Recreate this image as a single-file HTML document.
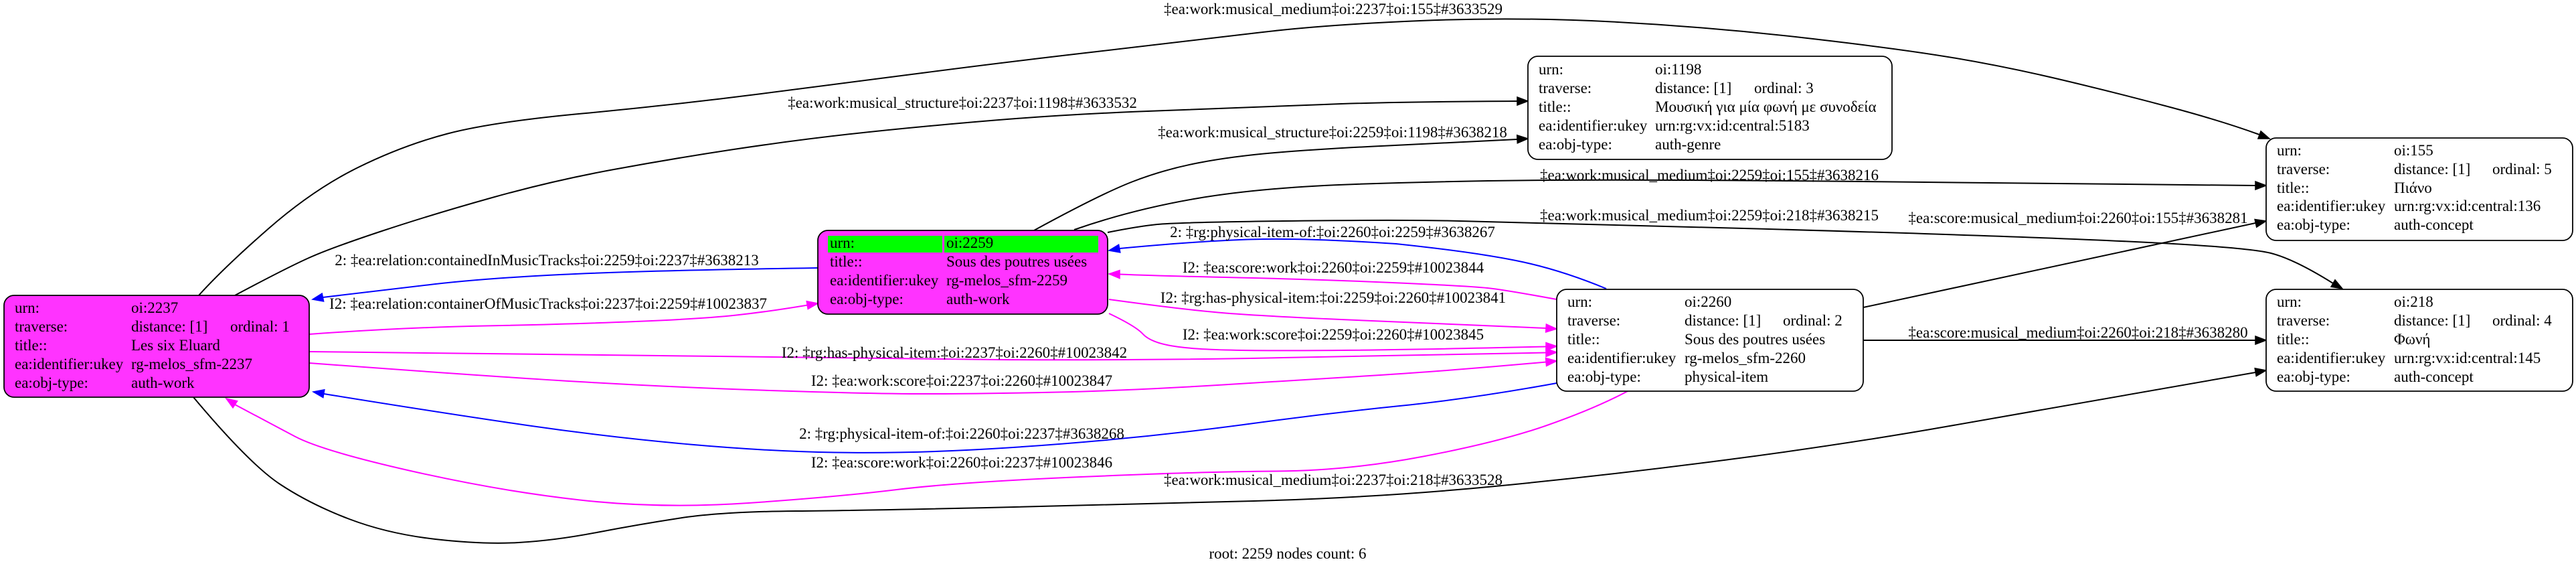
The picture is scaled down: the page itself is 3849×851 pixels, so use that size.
<!DOCTYPE html>
<html><head><meta charset="utf-8"><style>
html,body{margin:0;padding:0;background:#fff;}
svg{display:block;}
text{font-family:"Liberation Serif","DejaVu Serif",serif;font-size:23px;fill:#000;}
</style></head><body>
<svg width="3849" height="851" viewBox="0 0 3849 851" xmlns="http://www.w3.org/2000/svg">
<rect x="0" y="0" width="3849" height="851" fill="#fff"/>

<!-- ===== EDGES ===== -->
<g fill="none" stroke-width="2">
<!-- E1 2237 -> 155 -->
<path stroke="#000" d="M297,441 Q334,400 401,341.5 Q468,283 535,250 Q602,217 669,199.5 Q736,182 870,169.5 Q1004,157 1137.5,140 Q1271,123 1385.5,108 Q1500,93 1643.5,76.5 Q1787,60 1882.5,48.5 Q1978,37 2121.5,31 Q2265,25 2408.5,32.5 Q2552,40 2696,56.5 Q2840,73 2920,86.5 Q3000,100 3084,120 Q3168,140 3244.5,160.5 Q3321,181 3376,201"/>
<!-- E2 2237 -> 1198 -->
<path stroke="#000" d="M351,441 Q428,400 461.5,385 Q495,370 570.5,345 Q646,320 735.5,295 Q825,270 914.5,253.5 Q1004,237 1093,223.5 Q1182,210 1271.5,200 Q1361,190 1480.5,180 Q1600,170 1741.5,165 Q1883,160 1978.5,156 Q2074,152 2267,151"/>
<!-- E3 2259 -> 1198 -->
<path stroke="#000" d="M1545,344 Q1644,290 1691.5,271.5 Q1739,253 1791.5,243 Q1844,233 1911,227.5 Q1978,222 2074,217.5 Q2170,213 2267,208"/>
<!-- E4 2259 -> 155 -->
<path stroke="#000" d="M1605,343 Q1691,313 1787,296.5 Q1883,280 2026.5,275 Q2170,270 2313.5,269 Q2457,268 2728.5,270.5 Q3000,273 3370,277"/>
<!-- E5 2259 -> 218 -->
<path stroke="#000" d="M1655,347 Q1700,338 1729,335 Q1758,332 1916,330 Q2074,328 2162,329.5 Q2250,331 2625,341.5 Q3000,352 3180,360.5 Q3360,369 3395,378.5 Q3430,388 3486,423"/>
<!-- E6 2260 -> 2259 blue -->
<path stroke="#0000ff" d="M2400,431 Q2330,402 2265,389 Q2200,376 2086,364 Q1965,356 1888.5,357 Q1812,358 1673,371"/>
<!-- E7 2260 -> 2259 magenta -->
<path stroke="#ff00ff" d="M2326,447 Q2250,433 2222.5,430 Q2195,427 2080,422 Q1965,417 1850,414.5 Q1735,412 1673,409.5"/>
<!-- E8 2259 -> 2260 magenta -->
<path stroke="#ff00ff" d="M1657,447 Q1774,463 1831.5,467.5 Q1889,472 2003.5,477 Q2118,482 2310,490"/>
<!-- E9 2259 -> 2260 magenta -->
<path stroke="#ff00ff" d="M1657,468 Q1697,487 1707.5,498.5 Q1718,510 1746,515.5 Q1774,521 1831.5,522.5 Q1889,524 2003.5,523 Q2118,522 2310,517.5"/>
<!-- E10 2237 -> 2260 magenta -->
<path stroke="#ff00ff" d="M462,525 Q900,530 1075,532 Q1250,535 1492.5,537 Q1735,538 1917.5,534 Q2100,531 2310,526.5"/>
<!-- E11 2237 -> 2260 magenta -->
<path stroke="#ff00ff" d="M462,542 Q717,561 858.5,569.5 Q1000,578 1150,583 Q1300,588 1385,588 Q1470,588 1580,585.5 Q1690,583 1827.5,574.5 Q1965,566 2062.5,560 Q2160,554 2310,540.5"/>
<!-- E12 2260 -> 2237 blue -->
<path stroke="#0000ff" d="M2326,572 Q2200,595 2091.5,606 Q1983,617 1873,632 Q1763,647 1653,657 Q1543,667 1444,672 Q1345,677 1247.5,675.5 Q1150,674 1031,663.5 Q912,653 787.5,635 Q663,617 484,588"/>
<!-- E13 2260 -> 2237 magenta -->
<path stroke="#ff00ff" d="M2432,584 Q2383,610 2311.5,635 Q2240,660 2126.5,681.5 Q2013,703 1906.5,703.5 Q1800,704 1615,712 Q1430,720 1340,731 Q1250,742 1118.5,751 Q987,760 866.5,746.5 Q746,733 613.5,703 Q481,673 440.5,651.5 Q400,630 351,604"/>
<!-- E14 2237 -> 218 -->
<path stroke="#000" d="M289,593 Q373,693 418.5,723 Q464,753 522,775 Q580,797 650.5,805 Q721,813 775,810 Q829,807 891.5,795 Q954,783 1016,773.5 Q1078,764 1189,763 Q1300,762 1495,757.5 Q1690,753 1873.5,748 Q2057,743 2228.5,726.5 Q2400,710 2580,686.5 Q2760,663 2913,636 Q3066,609 3370,556"/>
<!-- E15 2259 -> 2237 blue -->
<path stroke="#0000ff" d="M1222,400 Q957,404 837,410 Q717,416 638.5,425.5 Q560,435 482,444"/>
<!-- E16 2237 -> 2259 magenta -->
<path stroke="#ff00ff" d="M462,499 Q600,489 725,486.5 Q850,484 950,480 Q1050,476 1100,470.5 Q1150,465 1206,455.6"/>
<!-- E17 2260 -> 155 -->
<path stroke="#000" d="M2784,459 L3370,333"/>
<!-- E18 2260 -> 218 -->
<path stroke="#000" d="M2784,508 L3370,508"/>
</g>

<!-- ===== ARROWHEADS ===== -->
<g stroke-width="1.5">
<polygon fill="#000" stroke="#000" points="3391,207 3373.9,207 3378.1,195.8"/>
<polygon fill="#000" stroke="#000" points="2283,151 2267,145 2267,157"/>
<polygon fill="#000" stroke="#000" points="2283,207 2267.3,213.8 2266.7,201.8"/>
<polygon fill="#000" stroke="#000" points="3386,277 3370,271 3370,283"/>
<polygon fill="#000" stroke="#000" points="3500,431 3483,428.2 3489,417.8"/>
<polygon fill="#0000ff" stroke="#0000ff" points="1657,374 1671.6,365.2 1673.8,377"/>
<polygon fill="#ff00ff" stroke="#ff00ff" points="1657,409 1673,403.6 1673,415.6"/>
<polygon fill="#ff00ff" stroke="#ff00ff" points="2326,491 2310.4,484 2309.6,496"/>
<polygon fill="#ff00ff" stroke="#ff00ff" points="2326,517 2310,511.5 2310,523.5"/>
<polygon fill="#ff00ff" stroke="#ff00ff" points="2326,526 2310,520.4 2310,532.4"/>
<polygon fill="#ff00ff" stroke="#ff00ff" points="2326,539 2310.6,546.5 2309.5,534.5"/>
<polygon fill="#0000ff" stroke="#0000ff" points="468,585 484.8,581.8 482.8,593.6"/>
<polygon fill="#ff00ff" stroke="#ff00ff" points="338,595 354.6,598.8 348,608.8"/>
<polygon fill="#000" stroke="#000" points="3386,553 3371.2,561.6 3369.2,549.8"/>
<polygon fill="#0000ff" stroke="#0000ff" points="467,447 481.2,438.1 483.6,449.9"/>
<polygon fill="#ff00ff" stroke="#ff00ff" points="1222,453 1207.2,461.5 1205.2,449.7"/>
<polygon fill="#000" stroke="#000" points="3386,330 3371.7,339.2 3369.1,327.5"/>
<polygon fill="#000" stroke="#000" points="3386,508 3370,502 3370,514"/>
</g>

<!-- ===== EDGE LABELS ===== -->
<g text-anchor="middle">
<text x="1992" y="21">‡ea:work:musical_medium‡oi:2237‡oi:155‡#3633529</text>
<text x="1438" y="161">‡ea:work:musical_structure‡oi:2237‡oi:1198‡#3633532</text>
<text x="1991" y="205">‡ea:work:musical_structure‡oi:2259‡oi:1198‡#3638218</text>
<text x="2554" y="269">‡ea:work:musical_medium‡oi:2259‡oi:155‡#3638216</text>
<text x="2554" y="329">‡ea:work:musical_medium‡oi:2259‡oi:218‡#3638215</text>
<text x="3105" y="333">‡ea:score:musical_medium‡oi:2260‡oi:155‡#3638281</text>
<text x="1991" y="354">2: ‡rg:physical-item-of:‡oi:2260‡oi:2259‡#3638267</text>
<text x="817" y="396">2: ‡ea:relation:containedInMusicTracks‡oi:2259‡oi:2237‡#3638213</text>
<text x="1992" y="407">I2: ‡ea:score:work‡oi:2260‡oi:2259‡#10023844</text>
<text x="1992" y="452">I2: ‡rg:has-physical-item:‡oi:2259‡oi:2260‡#10023841</text>
<text x="819" y="461">I2: ‡ea:relation:containerOfMusicTracks‡oi:2237‡oi:2259‡#10023837</text>
<text x="3105" y="504">‡ea:score:musical_medium‡oi:2260‡oi:218‡#3638280</text>
<text x="1992" y="507">I2: ‡ea:work:score‡oi:2259‡oi:2260‡#10023845</text>
<text x="1426" y="534">I2: ‡rg:has-physical-item:‡oi:2237‡oi:2260‡#10023842</text>
<text x="1437" y="576">I2: ‡ea:work:score‡oi:2237‡oi:2260‡#10023847</text>
<text x="1437" y="655">2: ‡rg:physical-item-of:‡oi:2260‡oi:2237‡#3638268</text>
<text x="1437" y="698">I2: ‡ea:score:work‡oi:2260‡oi:2237‡#10023846</text>
<text x="1992" y="724">‡ea:work:musical_medium‡oi:2237‡oi:218‡#3633528</text>
<text x="1924" y="834">root: 2259 nodes count: 6</text>
</g>

<!-- ===== NODES ===== -->
<!-- 2237 -->
<rect x="6" y="441" width="456" height="152" rx="15" ry="15" fill="#ff33ff" stroke="#000" stroke-width="1.8"/>
<text x="22" y="467">urn:</text><text x="196" y="467">oi:2237</text>
<text x="22" y="495">traverse:</text><text x="196" y="495">distance: [1]</text><text x="344" y="495">ordinal: 1</text>
<text x="22" y="523">title::</text><text x="196" y="523">Les six Eluard</text>
<text x="22" y="551">ea:identifier:ukey</text><text x="196" y="551">rg-melos_sfm-2237</text>
<text x="22" y="579">ea:obj-type:</text><text x="196" y="579">auth-work</text>

<!-- 2259 -->
<rect x="1222" y="344" width="433" height="125" rx="15" ry="15" fill="#ff33ff" stroke="#000" stroke-width="1.8"/>
<rect x="1237" y="352" width="171" height="25" fill="#00ff00"/>
<rect x="1411" y="352" width="230" height="25" fill="#00ff00"/>
<text x="1240" y="370">urn:</text><text x="1414" y="370">oi:2259</text>
<text x="1240" y="398">title::</text><text x="1414" y="398">Sous des poutres usées</text>
<text x="1240" y="426">ea:identifier:ukey</text><text x="1414" y="426">rg-melos_sfm-2259</text>
<text x="1240" y="454">ea:obj-type:</text><text x="1414" y="454">auth-work</text>

<!-- 2260 -->
<rect x="2326" y="432" width="458" height="152" rx="15" ry="15" fill="#fff" stroke="#000" stroke-width="1.8"/>
<text x="2342" y="458">urn:</text><text x="2517" y="458">oi:2260</text>
<text x="2342" y="486">traverse:</text><text x="2517" y="486">distance: [1]</text><text x="2664" y="486">ordinal: 2</text>
<text x="2342" y="514">title::</text><text x="2517" y="514">Sous des poutres usées</text>
<text x="2342" y="542">ea:identifier:ukey</text><text x="2517" y="542">rg-melos_sfm-2260</text>
<text x="2342" y="570">ea:obj-type:</text><text x="2517" y="570">physical-item</text>

<!-- 1198 -->
<rect x="2283" y="84" width="544" height="154" rx="15" ry="15" fill="#fff" stroke="#000" stroke-width="1.8"/>
<text x="2299" y="111">urn:</text><text x="2473" y="111">oi:1198</text>
<text x="2299" y="139">traverse:</text><text x="2473" y="139">distance: [1]</text><text x="2621" y="139">ordinal: 3</text>
<text x="2299" y="167">title::</text><text x="2473" y="167">Μουσική για μία φωνή με συνοδεία</text>
<text x="2299" y="195">ea:identifier:ukey</text><text x="2473" y="195">urn:rg:vx:id:central:5183</text>
<text x="2299" y="223">ea:obj-type:</text><text x="2473" y="223">auth-genre</text>

<!-- 155 -->
<rect x="3386" y="206" width="458" height="153" rx="15" ry="15" fill="#fff" stroke="#000" stroke-width="1.8"/>
<text x="3402" y="232">urn:</text><text x="3577" y="232">oi:155</text>
<text x="3402" y="260">traverse:</text><text x="3577" y="260">distance: [1]</text><text x="3724" y="260">ordinal: 5</text>
<text x="3402" y="288">title::</text><text x="3577" y="288">Πιάνο</text>
<text x="3402" y="315">ea:identifier:ukey</text><text x="3577" y="315">urn:rg:vx:id:central:136</text>
<text x="3402" y="343">ea:obj-type:</text><text x="3577" y="343">auth-concept</text>

<!-- 218 -->
<rect x="3386" y="432" width="458" height="152" rx="15" ry="15" fill="#fff" stroke="#000" stroke-width="1.8"/>
<text x="3402" y="458">urn:</text><text x="3577" y="458">oi:218</text>
<text x="3402" y="486">traverse:</text><text x="3577" y="486">distance: [1]</text><text x="3724" y="486">ordinal: 4</text>
<text x="3402" y="514">title::</text><text x="3577" y="514">Φωνή</text>
<text x="3402" y="542">ea:identifier:ukey</text><text x="3577" y="542">urn:rg:vx:id:central:145</text>
<text x="3402" y="570">ea:obj-type:</text><text x="3577" y="570">auth-concept</text>
</svg>
</body></html>
